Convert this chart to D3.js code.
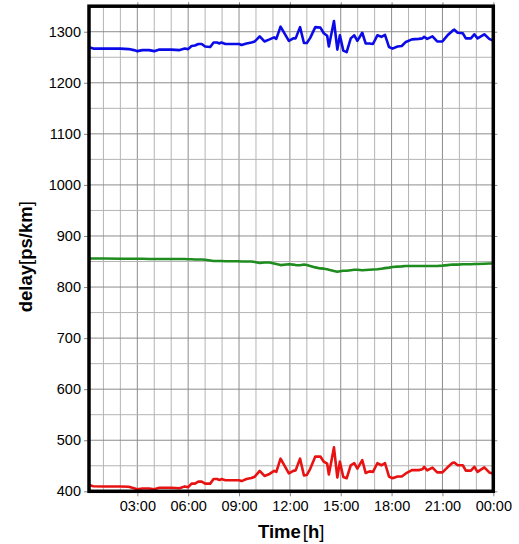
<!DOCTYPE html>
<html>
<head>
<meta charset="utf-8">
<script src="https://cdn.jsdelivr.net/npm/d3@7"></script>
<style>
  html, body { margin: 0; padding: 0; background: #fff; }
  svg { display: block; }
</style>
</head>
<body>
<svg id="chart" width="519" height="544"></svg>
<script>
// Time of day in hours for each sample
const hours = [
  0.1, 0.4, 1.0, 2.0, 2.5, 2.8, 3.0, 3.3, 3.7, 4.0,
  4.3, 5.0, 5.5, 5.8, 6.0, 6.2, 6.4, 6.6, 6.8, 7.0,
  7.3, 7.5, 7.7, 7.85, 7.96, 8.2, 9.0, 9.15, 9.44, 9.73,
  9.93, 10.22, 10.5, 10.8, 11.07, 11.2, 11.45, 11.94, 12.2, 12.34,
  12.6, 12.83, 13.0, 13.2, 13.5, 13.8, 14.0, 14.2, 14.3, 14.6,
  14.8, 14.95, 15.15, 15.35, 15.59, 15.8, 15.98, 16.27, 16.47, 16.7,
  16.9, 17.16, 17.4, 17.61, 17.85, 18.05, 18.35, 18.6, 18.84, 19.2,
  19.6, 19.82, 19.92, 20.1, 20.41, 20.69, 21.0, 21.3, 21.6, 21.7,
  21.9, 22.2, 22.38, 22.68, 22.88, 23.07, 23.47, 23.76, 23.96
];

// Delay series, ps/km
const blueDelay = [
  1270, 1267, 1267, 1267, 1266, 1264, 1262, 1264, 1264, 1262,
  1265, 1265, 1264, 1267, 1266, 1272, 1273, 1276, 1276, 1271,
  1270, 1279, 1279, 1277, 1279, 1276, 1276, 1274, 1277, 1279,
  1281, 1291, 1281, 1285, 1289, 1286, 1310, 1282, 1287, 1287,
  1309, 1278, 1278, 1288, 1309, 1308, 1297, 1292, 1271, 1321,
  1265, 1293, 1263, 1260, 1287, 1293, 1282, 1298, 1277, 1277,
  1276, 1293, 1290, 1294, 1270, 1267, 1271, 1272, 1280, 1285,
  1286, 1287, 1290, 1286, 1291, 1281, 1281, 1293, 1302, 1304,
  1298, 1297, 1287, 1287, 1295, 1287, 1295, 1286, 1283
];

const greenDelay = [
  856, 856, 856, 855.5, 855.5, 855.5, 855.5, 855.5, 855, 855,
  855, 855, 855, 855, 854.5, 854.5, 854, 854, 854, 853.5,
  852, 851, 851, 851, 851, 850.5, 850.5, 850, 850, 850,
  849, 847, 848, 848, 846, 845, 843, 844.5, 844, 843,
  842.7, 844, 843, 841, 838.5, 836.5, 836, 835, 834, 831.5,
  830, 831, 832, 832, 833, 834, 834, 833, 833.5, 834,
  834.5, 835, 836, 837, 838, 839.4, 840, 840.5, 841.3, 841.3,
  841.3, 841.3, 841.3, 841.3, 841.3, 841.3, 842, 843, 844, 844,
  844, 844.5, 844.5, 844.5, 845, 845, 845.5, 846, 846
];

const redDelay = [
  413, 410, 409.5, 409.5, 409, 406, 404, 405.5, 405.5, 404,
  407, 407, 406, 409.6, 408, 415, 415, 419, 419, 415,
  415, 424, 424, 422, 424, 421.5, 421.5, 420, 424, 426,
  428.6, 440, 430, 434, 440, 438, 464, 435, 440, 441,
  464, 431, 432, 444, 468, 468, 458, 454, 433, 486,
  427, 458, 428, 425.5, 451, 455, 444.5, 461, 436, 439,
  438, 455, 451, 455, 428.8, 425.5, 429, 429, 435, 441.5,
  441.5, 443, 447.6, 441, 446.4, 437, 437, 447, 456, 456.5,
  451, 451, 440.5, 440.5, 448, 438, 447, 437, 435
];

const seriesColors = ["#0b0be8", "#1f8c1f", "#e81212"];

const xTickValues = [3, 6, 9, 12, 15, 18, 21, 24];
const xTickLabels = ["03:00", "06:00", "09:00", "12:00", "15:00", "18:00", "21:00", "00:00"];
const yTickValues = [400, 500, 600, 700, 800, 900, 1000, 1100, 1200, 1300];

const svg = d3.select("#chart");
const plotLeft = 89, plotRight = 493.3, plotTop = 6.2, plotBottom = 491.3;

const x = d3.scaleLinear().domain([0.15, 24]).range([plotLeft, plotRight]);
const y = d3.scaleLinear().domain([400, 1350]).range([plotBottom, plotTop]);

const font = "'Liberation Sans', Arial, Helvetica, sans-serif";

// Grid: minor lines every hour / 50 ps/km, major every 3 h / 100 ps/km
const grid = svg.append("g");
d3.range(1, 24).forEach(h => {
  grid.append("line")
    .attr("x1", x(h)).attr("x2", x(h))
    .attr("y1", plotTop).attr("y2", plotBottom)
    .attr("stroke", h % 3 === 0 ? "#8c8c8c" : "#b4b4b4")
    .attr("stroke-width", 1);
});
d3.range(450, 1350, 50).forEach(v => {
  grid.append("line")
    .attr("x1", plotLeft).attr("x2", plotRight)
    .attr("y1", y(v)).attr("y2", y(v))
    .attr("stroke", v % 100 === 0 ? "#8c8c8c" : "#b4b4b4")
    .attr("stroke-width", 1);
});

// Data lines
const line = d3.line().x((d, i) => x(hours[i])).y(d => y(d));
[blueDelay, greenDelay, redDelay].forEach((vals, k) => {
  svg.append("path")
    .attr("d", line(vals))
    .attr("fill", "none")
    .attr("stroke", seriesColors[k])
    .attr("stroke-width", 2.6)
    .attr("stroke-linejoin", "round");
});

// Axes with outward ticks on all four sides
function styleAxis(g) {
  g.select(".domain").remove();
  g.selectAll(".tick line").attr("stroke", "#888");
  g.selectAll("text")
    .attr("font-family", font)
    .attr("font-size", "14.5px")
    .attr("fill", "#000");
}

svg.append("g")
  .attr("transform", `translate(0,${plotBottom})`)
  .call(d3.axisBottom(x).tickValues(xTickValues)
    .tickFormat((d, i) => xTickLabels[i]).tickSize(5).tickPadding(4))
  .call(styleAxis);

svg.append("g")
  .attr("transform", `translate(${plotLeft},0)`)
  .call(d3.axisLeft(y).tickValues(yTickValues).tickFormat(d3.format("d"))
    .tickSize(5).tickPadding(3))
  .call(styleAxis);

svg.append("g")
  .attr("transform", `translate(0,${plotTop})`)
  .call(d3.axisTop(x).tickValues(xTickValues).tickSize(4).tickFormat(""))
  .call(styleAxis);

svg.append("g")
  .attr("transform", `translate(${plotRight},0)`)
  .call(d3.axisRight(y).tickValues(yTickValues).tickSize(4).tickFormat(""))
  .call(styleAxis);

// Frame
svg.append("rect")
  .attr("x", plotLeft).attr("y", plotTop)
  .attr("width", plotRight - plotLeft).attr("height", plotBottom - plotTop)
  .attr("fill", "none")
  .attr("stroke", "#000")
  .attr("stroke-width", 3.5);

// Axis titles
const xt = svg.append("text")
  .attr("x", (plotLeft + plotRight) / 2).attr("y", 538)
  .attr("text-anchor", "middle")
  .attr("font-family", font).attr("font-size", "18.5px").attr("font-weight", "bold");
xt.append("tspan").text("Time");
xt.append("tspan").attr("font-weight", "normal").attr("dx", 2).text("[");
xt.append("tspan").text("h");
xt.append("tspan").attr("font-weight", "normal").text("]");

const yt = svg.append("text")
  .attr("transform", `translate(32,${(plotTop + plotBottom) / 2 + 8}) rotate(-90)`)
  .attr("text-anchor", "middle")
  .attr("font-family", font).attr("font-size", "18.5px").attr("font-weight", "bold");
yt.append("tspan").text("delay");
yt.append("tspan").attr("font-weight", "normal").text("[");
yt.append("tspan").text("ps/km");
yt.append("tspan").attr("font-weight", "normal").text("]");
</script>
</body>
</html>
